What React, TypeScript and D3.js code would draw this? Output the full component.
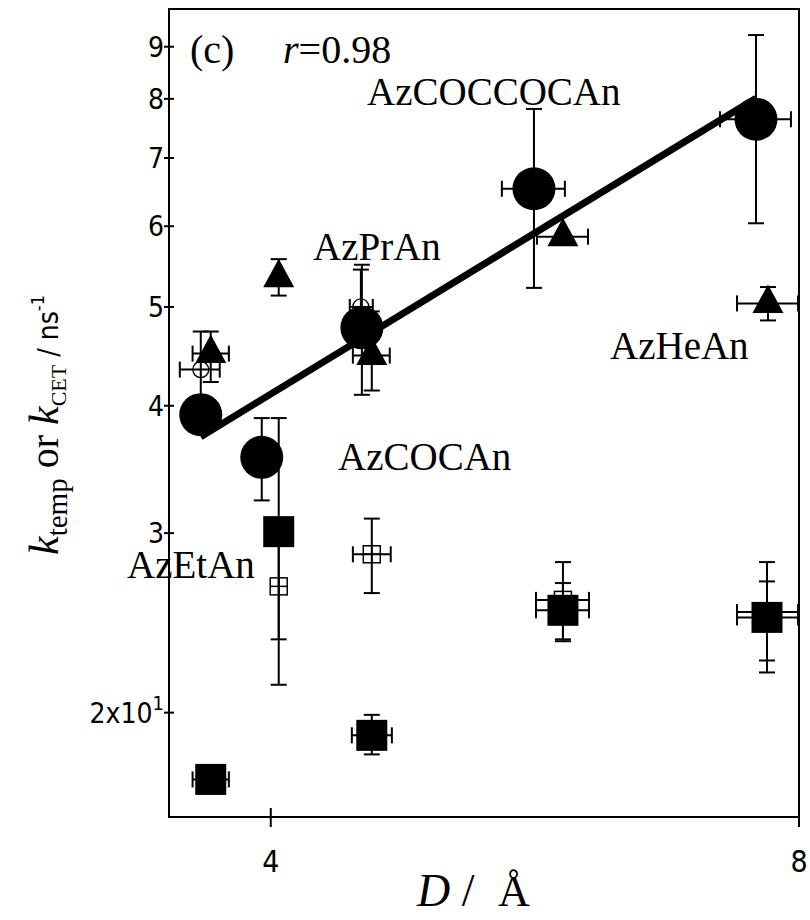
import * as d3 from "d3";

// ---- data (D in Å, k in 10^1 ns^-1 units as labelled) ----
const circleD = [3.649, 3.953, 4.508, 5.65, 7.561];
const circleK = [39.2, 35.6, 47.7, 65.3, 76.4];
const circleKLo = [null, 32.3, 41.0, 52.2, 60.4];
const circleKHi = [null, 38.9, 55.0, 78.2, 92.4];
const circleDLo = [null, null, null, 5.417, 7.212];
const circleDHi = [null, null, null, 5.884, 7.916];

const triD = [3.697, 4.042, 4.567, 5.869, 7.681];
const triK = [45.0, 53.4, 44.8, 58.6, 50.4];
const triKLo = [42.2, 51.3, 41.4, null, 48.5];
const triKHi = [47.3, 55.7, 49.5, null, 52.3];
const triDLo = [3.61, null, 4.455, 5.672, 7.375];
const triDHi = [3.786, null, 4.676, 6.065, 7.99];

const sqD = [3.697, 4.042, 4.567, 5.869, 7.671];
const sqK = [17.2, 30.1, 19.0, 25.2, 24.8];
const sqKLo = [null, 23.6, 18.2, 23.6, 22.5];
const sqKHi = [null, 38.9, 19.9, 26.8, 26.9];
const sqDLo = [3.61, null, 4.449, 5.665, 7.375];
const sqDHi = [3.786, null, 4.689, 6.073, 7.99];

const openSqD = [4.042, 4.567, 5.869, 7.671];
const openSqK = [26.6, 28.6, 25.8, 25.1];
const openSqKLo = [21.3, 26.2, 23.5, 21.9];
const openSqKHi = [29.5, 31.0, 28.1, 28.1];
const openSqDLo = [null, 4.455, 5.665, 7.375];
const openSqDHi = [null, 4.682, 6.073, 7.99];

const openCircD = [3.649, 4.502];
const openCircK = [43.4, 50.0];
const openCircKLo = [39.6, 46.0];
const openCircKHi = [47.3, 54.4];
const openCircDLo = [3.55, 4.437];
const openCircDHi = [3.741, 4.573];

// linear fit in log-log space (r = 0.98)
const fitD = [3.649, 7.561];
const fitK = [37.3, 80.1];

const yTicks = [20, 30, 40, 50, 60, 70, 80, 90];
const xTicks = [4, 8];

const serif = "'Liberation Serif', 'Times New Roman', Times, serif";
const sans = "'Liberation Sans Narrow', 'DejaVu Sans Condensed', 'Liberation Sans', Arial, sans-serif";

const margin = {left: 169, right: 799, top: 9, bottom: 817};

const x = d3.scaleLog().base(2).domain([3.5, 8]).range([margin.left, margin.right]);
const y = d3.scaleLog().domain([15.8, 98]).range([margin.bottom, margin.top]);

function build(d, k, kLo, kHi, dLo, dHi) {
    return d.map((v, i) => ({d: v, k: k[i], kLo: kLo[i], kHi: kHi[i], dLo: dLo[i], dHi: dHi[i]}));
}

const circles = build(circleD, circleK, circleKLo, circleKHi, circleDLo, circleDHi);
const triangles = build(triD, triK, triKLo, triKHi, triDLo, triDHi);
const squares = build(sqD, sqK, sqKLo, sqKHi, sqDLo, sqDHi);
const openSquares = build(openSqD, openSqK, openSqKLo, openSqKHi, openSqDLo, openSqDHi);
const openCircles = build(openCircD, openCircK, openCircKLo, openCircKHi, openCircDLo, openCircDHi);

const cap = 8;

function ErrorBars({p}) {
    const cx = x(p.d), cy = y(p.k);
    const parts = [];
    if (p.kLo != null && p.kHi != null) {
        const y1 = y(p.kLo), y2 = y(p.kHi);
        parts.push(<line key="v" x1={cx} x2={cx} y1={y1} y2={y2}/>);
        parts.push(<line key="vc1" x1={cx - cap} x2={cx + cap} y1={y1} y2={y1}/>);
        parts.push(<line key="vc2" x1={cx - cap} x2={cx + cap} y1={y2} y2={y2}/>);
    }
    if (p.dLo != null && p.dHi != null) {
        const x1 = x(p.dLo), x2 = x(p.dHi);
        parts.push(<line key="h" x1={x1} x2={x2} y1={cy} y2={cy}/>);
        parts.push(<line key="hc1" x1={x1} x2={x1} y1={cy - cap} y2={cy + cap}/>);
        parts.push(<line key="hc2" x1={x2} x2={x2} y1={cy - cap} y2={cy + cap}/>);
    }
    return <g stroke="#000" strokeWidth={2}>{parts}</g>;
}

function Series({data, marker}) {
    return <g>
        {data.map((p, i) => <g key={i}>
            <ErrorBars p={p}/>
            <g transform={`translate(${x(p.d)},${y(p.k)})`}>{marker}</g>
        </g>)}
    </g>;
}

const triPath = "M0,-19L15.5,9.5L-15.5,9.5Z";

export default function App() {
    const line = d3.line().x(d => x(d[0])).y(d => y(d[1]));
    const fitPts = fitD.map((v, i) => [v, fitK[i]]);

    return <svg width={810} height={920} style={{display: "block", position: "absolute", left: 0, top: 0}}>
        <rect width={810} height={920} fill="#fff"/>

        {/* frame */}
        <rect x={margin.left} y={margin.top} width={margin.right - margin.left} height={margin.bottom - margin.top}
              fill="none" stroke="#000" strokeWidth={2}/>

        {/* y ticks */}
        {yTicks.map(t => <g key={t}>
            <line x1={margin.left - 5} x2={margin.left + 5} y1={y(t)} y2={y(t)} stroke="#000" strokeWidth={2}/>
            <text x={margin.left - 5} y={y(t) + 10} textAnchor="end" fontFamily={sans} fontSize={28}>
                {t === 20 ? <>2x10<tspan fontSize={20} dy={-13}>1</tspan></> : String(t / 10)}
            </text>
        </g>)}

        {/* x ticks */}
        {xTicks.map(t => <g key={t}>
            <line x1={x(t)} x2={x(t)} y1={margin.bottom - 9} y2={margin.bottom + 10} stroke="#000" strokeWidth={2}/>
            <text x={x(t)} y={872} textAnchor="middle" fontFamily={sans} fontSize={30}>{t}</text>
        </g>)}

        {/* data */}
        <Series data={openSquares} marker={<g fill="none" stroke="#000" strokeWidth={1.5}>
            <rect x={-8.5} y={-8.5} width={17} height={17}/>
            <line x1={-8.5} x2={8.5} y1={0} y2={0}/>
            <line x1={0} x2={0} y1={-8.5} y2={8.5}/>
        </g>}/>
        <Series data={openCircles} marker={<circle r={8} fill="none" stroke="#000" strokeWidth={1.3}/>}/>
        <Series data={squares} marker={<rect x={-15.5} y={-15.5} width={31} height={31} fill="#000"/>}/>
        <Series data={triangles} marker={<path d={triPath} fill="#000"/>}/>
        <Series data={circles} marker={<circle r={21.5} fill="#000"/>}/>

        <path d={line(fitPts)} fill="none" stroke="#000" strokeWidth={7}/>

        {/* annotations */}
        <g fontFamily={serif} fontSize={39} fill="#000">
            <text x={190} y={63} fontSize={40}>(c)</text>
            <text x={283} y={63} fontSize={40}><tspan fontStyle="italic">r</tspan>=0.98</text>
            <text x={367} y={105}>AzCOCCOCAn</text>
            <text x={313} y={260}>AzPrAn</text>
            <text x={610} y={359}>AzHeAn</text>
            <text x={338} y={470}>AzCOCAn</text>
            <text x={127} y={578}>AzEtAn</text>
        </g>

        {/* axis titles */}
        <text transform="translate(58,555) rotate(-90)" fontFamily={serif} fontSize={40}>
            <tspan fontStyle="italic" fontSize={42}>k</tspan>
            <tspan fontSize={29} dy={9}>temp</tspan>
            <tspan dy={-9}> or </tspan>
            <tspan fontStyle="italic" fontSize={42}>k</tspan>
            <tspan fontSize={22} dy={8}>CET</tspan>
            <tspan fontFamily={sans} fontSize={28} dy={-8}> / ns</tspan>
            <tspan fontFamily={sans} fontSize={18} dy={-14}>-1</tspan>
        </text>

        <text x={417} y={906} fontFamily={serif} fontSize={46}>
            <tspan fontStyle="italic">D</tspan>
            <tspan> / </tspan>
            <tspan dx={12} fontSize={44}>Å</tspan>
        </text>
    </svg>;
}
